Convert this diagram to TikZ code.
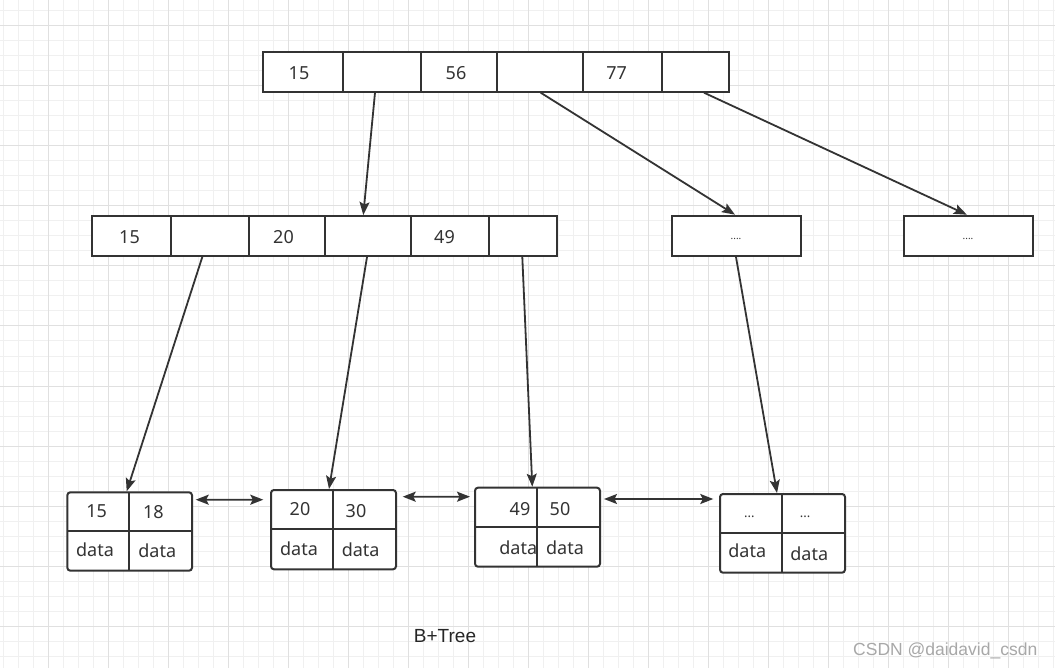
\documentclass[tikz,border=0pt]{standalone}
\usepackage{fontspec}
\setmainfont{Noto Sans}
\newfontfamily\arialf{Liberation Sans}
\usetikzlibrary{arrows.meta,fit}
\definecolor{lc}{HTML}{333333}
\definecolor{gminor}{HTML}{F0F0F0}
\definecolor{gmajor}{HTML}{E0E0E0}
\definecolor{wm}{HTML}{A8A8A8}
\begin{document}
\begin{tikzpicture}[x=1pt,y=-1pt,
  frame/.style={draw=lc, line width=2pt, inner sep=0pt, fill=white},
  leafframe/.style={frame, rounded corners=3pt},
  divider/.style={draw=lc, line width=2pt},
  key/.style={text=lc, font=\fontsize{18}{21}\selectfont, inner sep=0pt},
  dotstxt/.style={text=lc, font=\fontsize{10}{12}\selectfont, inner sep=0pt},
  leafdots/.style={text=lc, font=\fontsize{13}{15}\selectfont, inner sep=0pt},
  tip/.tip={Stealth[length=13pt,width=10pt,inset=2.5pt]},
  link/.style={draw=lc, line width=1.8pt, -tip},
  sibling/.style={draw=lc, line width=1.8pt, tip-tip},
  minorline/.style={draw=gminor, line width=1pt},
  majorline/.style={draw=gmajor, line width=1pt}]
\useasboundingbox (0,0) rectangle (1055,668);
\fill[white] (0,0) rectangle (1055,668);
% grid
\foreach \i in {0,...,70} \draw[minorline] ({3.3+15*\i},0) -- ({3.3+15*\i},668);
\foreach \i in {0,...,43} \draw[minorline] (0,{11+15*\i}) -- (1055,{11+15*\i});
\foreach \i in {0,...,16} \draw[majorline] ({48.3+60*\i},0) -- ({48.3+60*\i},668);
\foreach \i in {0,...,10} \draw[majorline] (0,{26+60*\i}) -- (1055,{26+60*\i});

% frames
\node[frame, fit={(263.3,52.3) (729,91.7)}] (T) {};
\node[frame, fit={(92,216) (557,256)}] (M) {};
\node[frame, fit={(671.7,215.7) (801.3,256)}] (B1) {};
\node[frame, fit={(904,215.7) (1032.7,256)}] (B2) {};
\node[leafframe, fit={(67.3,492.3) (192,570.7)}] (L1) {};
\node[leafframe, fit={(271,490) (396,569.3)}] (L2) {};
\node[leafframe, fit={(475,487.7) (600,566.7)}] (L3) {};
\node[leafframe, fit={(720,494) (845,572.7)}] (L4) {};

% dividers
\foreach \x in {342.7,421,497,583.3,661.7} \draw[divider] (\x,52.3) -- (\x,91.7);
\foreach \x in {171,249,325,411,489} \draw[divider] (\x,216) -- (\x,256);
\draw[divider] (128.7,492.3) -- (128.7,570.7) (67.3,531) -- (192,531);
\draw[divider] (332.7,490) -- (332.7,569.3) (271,529) -- (396,529);
\draw[divider] (537.3,487.7) -- (537.3,566.7) (475,527) -- (600,527);
\draw[divider] (782,494) -- (782,572.7) (720,532.7) -- (845,532.7);

% texts
\node[key] (t1) at (299,72.7) {15};
\node[key] (t3) at (456,72.7) {56};
\node[key] (t5) at (616.7,72.7) {77};
\node[key] (m1) at (129.5,236.8) {15};
\node[key] (m3) at (283.5,236.8) {20};
\node[key] (m5) at (444.5,236.8) {49};
\node[dotstxt] (b1t) at (736,239.3) {....};
\node[dotstxt] (b2t) at (968,239.3) {....};
\node[key] (l1a) at (96.7,511) {15};
\node[key] (l1b) at (153.3,512.3) {18};
\node[key] (l1c) at (95,549.7) {data};
\node[key] (l1d) at (157.3,550.7) {data};
\node[key] (l2a) at (300,509) {20};
\node[key] (l2b) at (356,510.7) {30};
\node[key] (l2c) at (299,548.3) {data};
\node[key] (l2d) at (360.7,550) {data};
\node[key] (l3a) at (520,509) {49};
\node[key] (l3b) at (560,509) {50};
\node[key] (l3c) at (518.3,547.7) {data};
\node[key] (l3d) at (565,547.7) {data};
\node[leafdots] (l4a) at (749.3,516.7) {...};
\node[leafdots] (l4b) at (805,516.7) {...};
\node[key] (l4c) at (747.3,551) {data};
\node[key] (l4d) at (809.3,553.3) {data};
\node[text=black!85, font=\arialf\fontsize{19}{22}\selectfont, inner sep=0pt, anchor=base] (title) at (445,642.3) {B+Tree};
\node[text=wm, font=\arialf\fontsize{17.5}{20}\selectfont, inner sep=0pt, anchor=base west] (mark) at (853,655.7) {CSDN @daidavid\_csdn};

% tree links
\draw[link] ([xshift=112.7pt]T.south west) -- ([xshift=272.3pt]M.north west);
\draw[link] ([xshift=278.4pt]T.south west) -- ([xshift=-1.5pt]B1.north);
\draw[link] ([xshift=441.7pt]T.south west) -- ([xshift=-1.5pt]B2.north);
\draw[link] ([xshift=111.3pt]M.south west) -- ([xshift=60.4pt]L1.north west);
\draw[link] ([xshift=276pt]M.south west) -- ([xshift=59pt]L2.north west);
\draw[link] ([xshift=431.3pt]M.south west) -- ([xshift=58.3pt]L3.north west);
\draw[link] ([xshift=-0.5pt]B1.south) -- ([xshift=58pt]L4.north west);

% leaf sibling links
\draw[sibling] ([xshift=2.7pt,yshift=-8.4pt]L1.north east) -- ([xshift=-6.7pt,yshift=-10.7pt]L2.north west);
\draw[sibling] ([xshift=5.7pt,yshift=-7.7pt]L2.north east) -- ([xshift=-4pt,yshift=-10pt]L3.north west);
\draw[sibling] ([xshift=3pt,yshift=-12.3pt]L3.north east) -- ([xshift=-5.7pt,yshift=-6pt]L4.north west);
\end{tikzpicture}
\end{document}
